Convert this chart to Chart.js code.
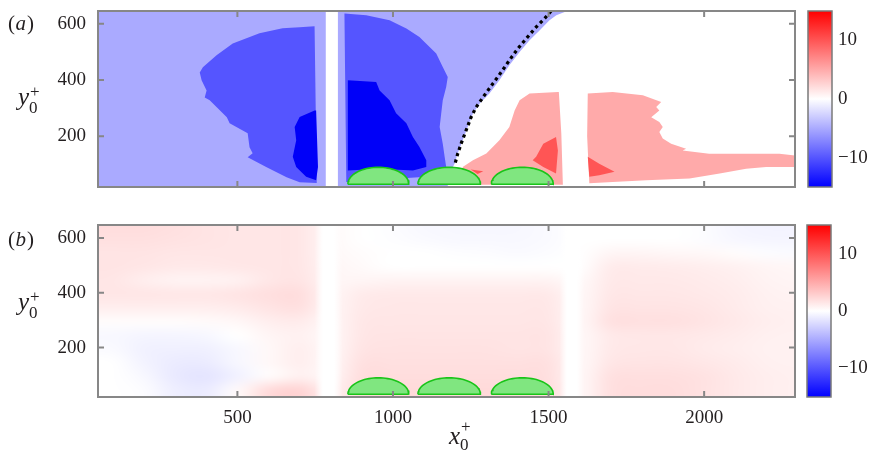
<!DOCTYPE html>
<html>
<head>
<meta charset="utf-8">
<script src="https://cdn.jsdelivr.net/npm/chart.js@4.4.1/dist/chart.umd.min.js"></script>
<style>
  body { margin: 0; background: #fff; }
  canvas { position: absolute; left: 0; }
</style>
</head>
<body>
<canvas id="panelA" width="873" height="200" style="top:0"></canvas>
<canvas id="panelB" width="873" height="261" style="top:200px"></canvas>
<script>
// ticks
const xTicks = [500, 1000, 1500, 2000];
const yTicks = [200, 400, 600];
const cbTicks = [-10, 0, 10];

// (a) contour regions, outlines in (x0+, y0+)
const lightBlueA = [[52,20],[52,645],[1560,645],[1525,630],[1503,612],[1471,576],[1439,541],[1407,499],[1374,452],[1342,399],[1310,352],[1278,316],[1257,281],[1240,233],[1224,186],[1208,139],[1198,103],[1187,79],[1175,20]];
const gapA = [[784,20],[784,645],[823,645],[823,20]];
const medBlueL = [[748,591],[700,587],[645,584],[571,566],[485,530],[433,488],[389,445],[379,427],[385,399],[401,363],[395,338],[411,328],[466,268],[475,246],[533,211],[539,161],[549,140],[533,126],[594,90],[658,55],[700,37],[755,34]];
const medBlueR = [[844,636],[914,630],[989,612],[1043,583],[1085,553],[1107,529],[1139,494],[1160,446],[1176,411],[1171,375],[1160,328],[1155,281],[1150,233],[1160,174],[1166,127],[1171,91],[1150,68],[1107,56],[850,38]];
const darkBlueL = [[748,292],[700,269],[684,233],[689,186],[678,127],[689,91],[721,56],[753,44],[759,91],[753,292]];
const darkBlueR = [[855,399],[946,393],[957,363],[989,328],[1010,282],[1043,246],[1064,198],[1085,162],[1107,115],[1107,91],[1064,79],[957,85],[855,79]];
const lightRedL = [[1530,357],[1439,352],[1407,328],[1391,292],[1374,233],[1342,186],[1300,139],[1257,115],[1224,91],[1224,56],[1246,28],[1546,28],[1541,210],[1533,357]];
const medRedL = [[1524,198],[1483,174],[1460,127],[1449,115],[1483,91],[1524,68],[1530,150]];
const medRedSpot = [[1250,82],[1290,76],[1272,66]];
const lightRedR = [[1626,352],[1706,357],[1803,346],[1862,322],[1846,304],[1856,292],[1830,268],[1856,251],[1867,233],[1856,215],[1867,192],[1894,174],[1942,156],[1931,150],[2016,138],[2177,138],[2242,138],[2292,132],[2292,91],[2199,91],[2135,85],[2050,68],[1953,50],[1814,44],[1706,38],[1631,33],[1624,200]];
const medRedR = [[1626,127],[1663,103],[1712,74],[1663,62],[1631,56]];
const separatrix = [[1508,645],[1503,638],[1487,618],[1460,588],[1428,547],[1401,511],[1374,470],[1348,428],[1321,387],[1294,346],[1267,303],[1251,268],[1235,221],[1219,174],[1208,138],[1198,97]];

// roughness elements
const bumpFrom = [855, 1080, 1316];
const bumpTo = [1051, 1281, 1515];
const bumpBase = 30;
const bumpTop = 90;

// (b) field: column centres, row centres, values
const heatX = [100,200,300,400,500,600,700,800,900,1000,1100,1200,1300,1400,1500,1600,1700,1800,1900,2000,2100,2200,2300];
const heatY = [645,595,545,495,445,395,345,295,245,195,145,95,45];
const heatZ = [
  [2,2,1.8,1.6,1.5,1.5,1.5,0.5,0,-0.2,-0.4,-0.5,-0.5,-0.5,-0.3,0,0,0,0,-0.2,-0.6,-0.7,-0.7],
  [1.8,1.8,1.7,1.6,1.5,1.5,1.5,0.5,0,-0.1,-0.3,-0.4,-0.4,-0.4,-0.3,0,0,0,0,-0.2,-0.5,-0.6,-0.6],
  [1.6,1.6,1.5,1.5,1.5,1.5,1.5,0.5,0.2,0,0,-0.1,-0.2,-0.3,-0.2,0,0.6,0.6,0.5,0.4,0.2,-0.2,-0.3],
  [1.6,1.5,1.3,1.3,1.4,1.5,1.5,0.6,0.3,0,0,0,0,0,0,0,1.2,1.2,1.1,1,0.8,0.6,0.5],
  [1.5,1,0.7,0.7,0.8,1.4,1.6,0.6,0.6,0.7,0.7,0.7,0.7,0.7,0.7,0.3,1.3,1.3,1.3,1.2,1,0.7,0.6],
  [1.5,1.5,1.4,1.4,1.6,1.9,2,0.6,1.2,1.3,1.3,1.3,1.3,1.3,1.3,0.4,1.4,1.4,1.4,1.3,1.1,0.8,0.7],
  [1,1,1,1,1.2,1.6,1.8,0.6,1.3,1.4,1.4,1.4,1.4,1.4,1.4,0.4,1.6,1.6,1.6,1.5,1.2,0.9,0.8],
  [0.2,0.2,0.2,0.3,0.5,1,1.2,0.5,1.4,1.5,1.5,1.5,1.5,1.5,1.5,0.4,1.8,1.8,1.8,1.6,1.3,1,0.9],
  [-0.4,-0.6,-0.6,-0.5,0,0.6,0.8,0.4,1.5,1.6,1.6,1.6,1.6,1.6,1.6,0.4,1.3,1.4,1.4,1.3,1.1,0.9,0.8],
  [-0.3,-0.8,-0.9,-0.9,-0.4,0.4,1,0.4,1.6,1.7,1.7,1.7,1.7,1.6,1.6,0.4,1.3,1.4,1.4,1.2,1,0.8,0.8],
  [0,-0.7,-1.2,-1.2,-0.5,0.4,1,0.4,1.8,1.8,1.8,1.8,1.8,1.8,1.8,0.4,1.5,1.6,1.6,1.4,1.2,0.9,0.8],
  [0,-0.4,-1.3,-1.6,-0.8,0.2,0.9,0.5,2,2,2,2,2,2,1.9,0.4,1.8,1.9,1.9,1.7,1.3,1,0.9],
  [0,-0.2,-1,-1.2,0.3,2.2,2.6,0.8,2.2,2.2,2.2,2.2,2.2,2.1,2,0.4,1.9,2,2,1.7,1.3,1,0.9]
];
const gapCentreB = [793, 1575];
const gapWidthB = [90, 80];

const SERIF = '"Liberation Serif", "DejaVu Serif", serif';
const INK = '#231f20';
const FRAME = '#878787';

function bwr(v) {
  const t = Math.max(-1, Math.min(1, v / 15));
  if (t >= 0) { const c = Math.round(255 * (1 - t)); return [255, c, c]; }
  const c = Math.round(255 * (1 + t));
  return [c, c, 255];
}

function pts(arr) {
  return arr.map(p => ({ x: p[0], y: p[1] }));
}

function region(arr, color) {
  return { data: pts(arr), fill: 'shape', backgroundColor: color, borderColor: 'rgba(0,0,0,0)',
           borderWidth: 0, pointRadius: 0, tension: 0 };
}

function bumpSets() {
  return bumpFrom.map((a, i) => {
    const c = (a + bumpTo[i]) / 2, r = (bumpTo[i] - a) / 2;
    const out = [];
    for (let k = 0; k <= 40; k++) {
      const t = Math.PI * k / 40;
      out.push([c - r * Math.cos(t), bumpBase + (bumpTop - bumpBase) * Math.sin(t)]);
    }
    out.push(out[0]);
    return { data: pts(out), fill: 'shape', backgroundColor: '#80e680', borderColor: '#19c419',
             borderWidth: 1.6, pointRadius: 0, tension: 0 };
  });
}

function withOrder(sets) {
  sets.forEach((d, i) => { d.order = -i; });
  return sets;
}

// fixed axis sizes, no extra padding from the labels
function fixSize(prop, size) {
  return s => {
    s[prop] = size;
    s.paddingTop = 0; s.paddingBottom = 0; s.paddingLeft = 0; s.paddingRight = 0;
  };
}

function scalesFor(showX, yMax, xHeight) {
  const font = { family: SERIF, size: 19 };
  return {
    x: {
      type: 'linear', min: 52, max: 2292,
      afterBuildTicks: s => { s.ticks = xTicks.map(v => ({ value: v })); },
      grid: { display: false, drawTicks: false }, border: { display: false },
      ticks: { display: showX, padding: 10, font, color: INK, callback: v => String(v) },
      afterFit: fixSize('height', xHeight)
    },
    y: {
      type: 'linear', min: 20, max: yMax,
      afterBuildTicks: s => { s.ticks = yTicks.map(v => ({ value: v })); },
      grid: { display: false, drawTicks: false }, border: { display: false },
      ticks: { padding: 12, font, color: INK, callback: v => String(v) },
      afterFit: fixSize('width', 98)
    },
    cb: {
      axis: 'y', type: 'linear', position: 'right', min: -15, max: 15,
      afterBuildTicks: s => { s.ticks = cbTicks.map(v => ({ value: v })); },
      grid: { display: false, drawTicks: false }, border: { display: false },
      ticks: { padding: 43, font, color: INK, callback: v => v < 0 ? '\u2212' + (-v) : String(v) },
      afterFit: fixSize('width', 78)
    }
  };
}

// frame, inward ticks and colour bar
function framePlugin(cbGap) {
  return {
    id: 'frame',
    afterDatasetsDraw(chart) {
      const { ctx, chartArea: a, scales } = chart;
      ctx.save();
      ctx.strokeStyle = FRAME;
      ctx.lineWidth = 2;
      ctx.beginPath();
      scales.x.ticks.forEach(t => {
        const px = scales.x.getPixelForValue(t.value);
        ctx.moveTo(px, a.top); ctx.lineTo(px, a.top + 6);
        ctx.moveTo(px, a.bottom); ctx.lineTo(px, a.bottom - 6);
      });
      scales.y.ticks.forEach(t => {
        const py = scales.y.getPixelForValue(t.value);
        ctx.moveTo(a.left, py); ctx.lineTo(a.left + 6, py);
        ctx.moveTo(a.right, py); ctx.lineTo(a.right - 6, py);
      });
      ctx.stroke();
      ctx.strokeRect(a.left, a.top, a.width, a.height);

      const cb = scales.cb;
      const top = cb.getPixelForValue(15), bot = cb.getPixelForValue(-15);
      const left = a.right + cbGap, w = 24;
      const g = ctx.createLinearGradient(0, top, 0, bot);
      g.addColorStop(0, '#ff0000');
      g.addColorStop(0.5, '#ffffff');
      g.addColorStop(1, '#0000ff');
      ctx.fillStyle = g;
      ctx.fillRect(left, top, w, bot - top);
      ctx.lineWidth = 1.5;
      ctx.strokeStyle = '#7a7a7a';
      ctx.strokeRect(left, top, w, bot - top);
      ctx.restore();
    }
  };
}

function drawVar(ctx, x, y, base, sup, sub, supDy, subDy) {
  ctx.font = 'italic 25px ' + SERIF;
  ctx.fillText(base, x, y);
  const w = ctx.measureText(base).width;
  ctx.font = '17px ' + SERIF;
  ctx.fillText(sup, x + w + 1, y + supDy);
  ctx.fillText(sub, x + w, y + subDy);
}

function textPlugin(letter, letterY, yLabelY, xLabel) {
  return {
    id: 'texts',
    afterDraw(chart) {
      const ctx = chart.ctx;
      ctx.save();
      ctx.fillStyle = INK;
      ctx.textBaseline = 'alphabetic';
      ctx.textAlign = 'left';
      let x = 8;
      ctx.font = '21px ' + SERIF;
      ctx.fillText('(', x, letterY); x += ctx.measureText('(').width + 0.5;
      ctx.font = 'italic 21px ' + SERIF;
      ctx.fillText(letter, x, letterY); x += ctx.measureText(letter).width + 1;
      ctx.font = '21px ' + SERIF;
      ctx.fillText(')', x, letterY);
      drawVar(ctx, 18, yLabelY, 'y', '+', '0', -8, 8);
      if (xLabel) drawVar(ctx, 449, 244, 'x', '+', '0', -12, 6);
      ctx.restore();
    }
  };
}

// smooth field for (b), with the two blanked strips
const heatPlugin = {
  id: 'heat',
  beforeDatasetsDraw(chart) {
    const { ctx, chartArea: a, scales: { x, y } } = chart;
    const nx = heatX.length, ny = heatY.length;
    const off = document.createElement('canvas');
    off.width = nx; off.height = ny;
    const octx = off.getContext('2d');
    const img = octx.createImageData(nx, ny);
    heatZ.forEach((row, j) => row.forEach((v, i) => {
      const [r, g, b] = bwr(v);
      const k = 4 * (j * nx + i);
      img.data[k] = r; img.data[k + 1] = g; img.data[k + 2] = b; img.data[k + 3] = 255;
    }));
    octx.putImageData(img, 0, 0);
    const dx = heatX[1] - heatX[0], dy = heatY[0] - heatY[1];
    const x0 = x.getPixelForValue(heatX[0] - dx / 2), x1 = x.getPixelForValue(heatX[nx - 1] + dx / 2);
    const y0 = y.getPixelForValue(heatY[0] + dy / 2), y1 = y.getPixelForValue(heatY[ny - 1] - dy / 2);
    ctx.save();
    ctx.beginPath();
    ctx.rect(a.left, a.top, a.width, a.height);
    ctx.clip();
    ctx.imageSmoothingEnabled = true;
    ctx.imageSmoothingQuality = 'high';
    ctx.drawImage(off, x0, y0, x1 - x0, y1 - y0);
    gapCentreB.forEach((c, i) => {
      const l = x.getPixelForValue(c - gapWidthB[i] / 2), r = x.getPixelForValue(c + gapWidthB[i] / 2);
      const g = ctx.createLinearGradient(l, 0, r, 0);
      g.addColorStop(0, 'rgba(255,255,255,0)');
      g.addColorStop(0.3, '#ffffff');
      g.addColorStop(0.7, '#ffffff');
      g.addColorStop(1, 'rgba(255,255,255,0)');
      ctx.fillStyle = g;
      ctx.fillRect(l, a.top, r - l, a.height);
    });
    ctx.restore();
  }
};

const common = {
  responsive: false,
  animation: false,
  devicePixelRatio: 1,
  events: [],
  plugins: { legend: { display: false }, tooltip: { enabled: false } }
};

const setsA = withOrder([
  region(lightBlueA, '#aaaaff'),
  region(gapA, '#ffffff'),
  region(medBlueL, '#5555ff'),
  region(medBlueR, '#5555ff'),
  region(darkBlueL, '#0000f8'),
  region(darkBlueR, '#0000f8'),
  region(lightRedL, '#ffaaaa'),
  region(lightRedR, '#ffaaaa'),
  region(medRedL, '#ff5555'),
  region(medRedR, '#ff5555'),
  region(medRedSpot, '#ff5555'),
  { data: pts(separatrix), fill: false, borderColor: '#000000', borderWidth: 3.2,
    borderDash: [3.2, 3.4], pointRadius: 0, tension: 0 },
  ...bumpSets()
]);

new Chart(document.getElementById('panelA'), {
  type: 'line',
  data: { datasets: setsA },
  options: { ...common,
             layout: { autoPadding: false, padding: { top: 11, left: 0, right: 0, bottom: 0 } },
             scales: scalesFor(false, 645, 13) },
  plugins: [framePlugin(13), textPlugin('a', 30, 105, false)]
});

new Chart(document.getElementById('panelB'), {
  type: 'line',
  data: { datasets: withOrder(bumpSets()) },
  options: { ...common,
             layout: { autoPadding: false, padding: { top: 25, left: 0, right: 0, bottom: 0 } },
             scales: scalesFor(true, 647, 64) },
  plugins: [heatPlugin, framePlugin(12), textPlugin('b', 46, 110, true)]
});
</script>
</body>
</html>
